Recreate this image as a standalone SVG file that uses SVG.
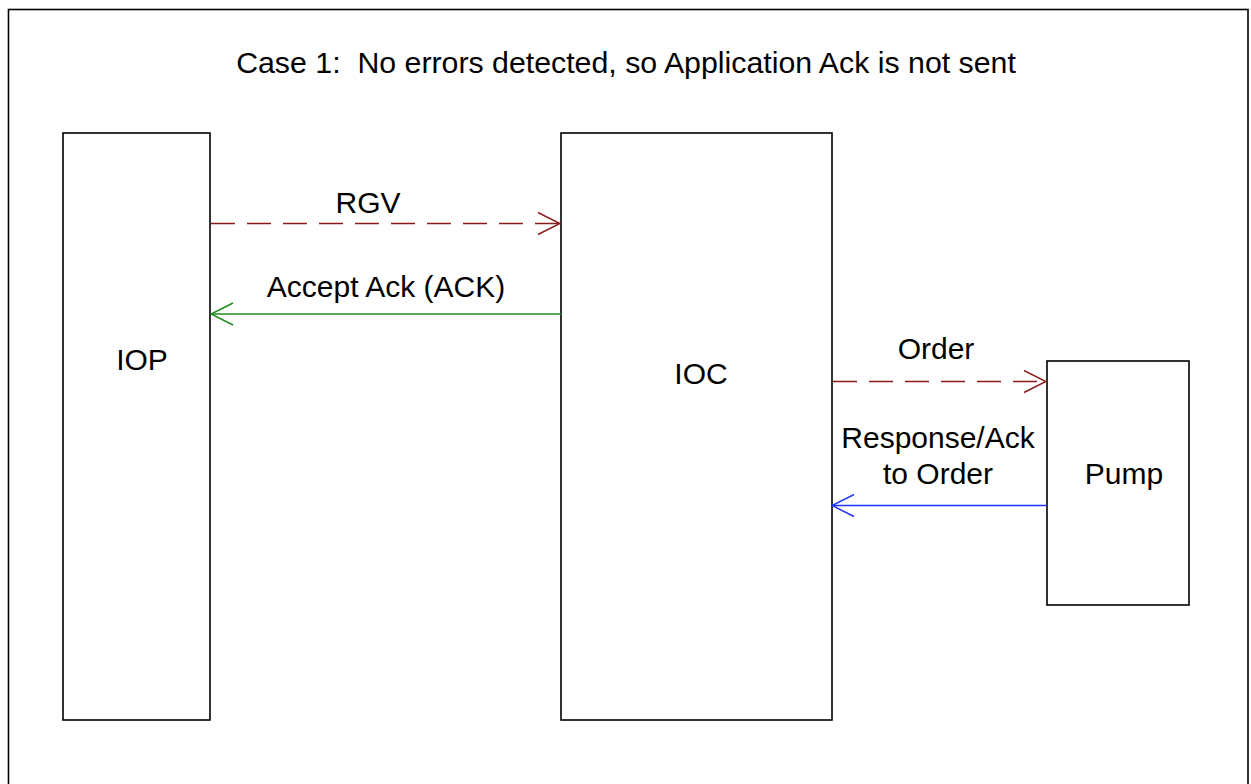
<svg xmlns="http://www.w3.org/2000/svg" width="1251" height="784" viewBox="0 0 1251 784">
  <style>
    .box { fill: #ffffff; stroke: #000000; stroke-width: 1.6; }
    .lbl { font-family: "Liberation Sans", Arial, sans-serif; font-size: 30px; fill: #000000; text-anchor: middle; }
    .conn { fill: none; stroke-width: 1.5; }
    .red { stroke: #8B1A1A; stroke-dasharray: 24 12; }
    .green { stroke: #1E8C1E; }
    .blue { stroke: #1F35FF; }
  </style>
  <defs>
    <marker id="arrRed" viewBox="0 0 24 24" refX="23" refY="12" markerWidth="24" markerHeight="24" markerUnits="userSpaceOnUse" orient="auto">
      <path d="M1,1 L23,12 L1,23" fill="none" stroke="#8B1A1A" stroke-width="1.5"/>
    </marker>
    <marker id="arrGreen" viewBox="0 0 24 24" refX="23" refY="12" markerWidth="24" markerHeight="24" markerUnits="userSpaceOnUse" orient="auto">
      <path d="M1,1 L23,12 L1,23" fill="none" stroke="#1E8C1E" stroke-width="1.5"/>
    </marker>
    <marker id="arrBlue" viewBox="0 0 24 24" refX="23" refY="12" markerWidth="24" markerHeight="24" markerUnits="userSpaceOnUse" orient="auto">
      <path d="M1,1 L23,12 L1,23" fill="none" stroke="#1F35FF" stroke-width="1.5"/>
    </marker>
  </defs>

  <rect x="0" y="0" width="1251" height="784" fill="#ffffff"/>
  <rect id="frame" x="8.5" y="9.5" width="1239.5" height="800" fill="none" stroke="#000000" stroke-width="1.6"/>

  <text id="title" class="lbl" x="626" y="73" style="font-size:30.3px; white-space:pre" xml:space="preserve">Case 1:  No errors detected, so Application Ack is not sent</text>

  <g id="node-IOP">
    <rect class="box" x="63" y="133" width="147" height="587"/>
    <text class="lbl" x="142" y="370">IOP</text>
  </g>

  <g id="node-IOC">
    <rect class="box" x="561" y="133" width="271" height="587"/>
    <text class="lbl" x="701" y="384">IOC</text>
  </g>

  <g id="node-Pump">
    <rect class="box" x="1047" y="361" width="142" height="244"/>
    <text class="lbl" x="1124" y="484">Pump</text>
  </g>

  <g id="connectors">
    <line class="conn red" x1="211" y1="223.5" x2="560" y2="223.5" marker-end="url(#arrRed)"/>
    <text class="lbl" x="368" y="213">RGV</text>

    <line class="conn green" x1="561" y1="314" x2="211" y2="314" marker-end="url(#arrGreen)"/>
    <text class="lbl" x="386" y="297">Accept Ack (ACK)</text>

    <line class="conn red" x1="833" y1="381.5" x2="1046" y2="381.5" marker-end="url(#arrRed)"/>
    <text class="lbl" x="936" y="359">Order</text>

    <line class="conn blue" x1="1047" y1="505.5" x2="832" y2="505.5" marker-end="url(#arrBlue)"/>
    <text class="lbl" x="938" y="448">Response/Ack</text>
    <text class="lbl" x="938" y="484">to Order</text>
  </g>
</svg>
